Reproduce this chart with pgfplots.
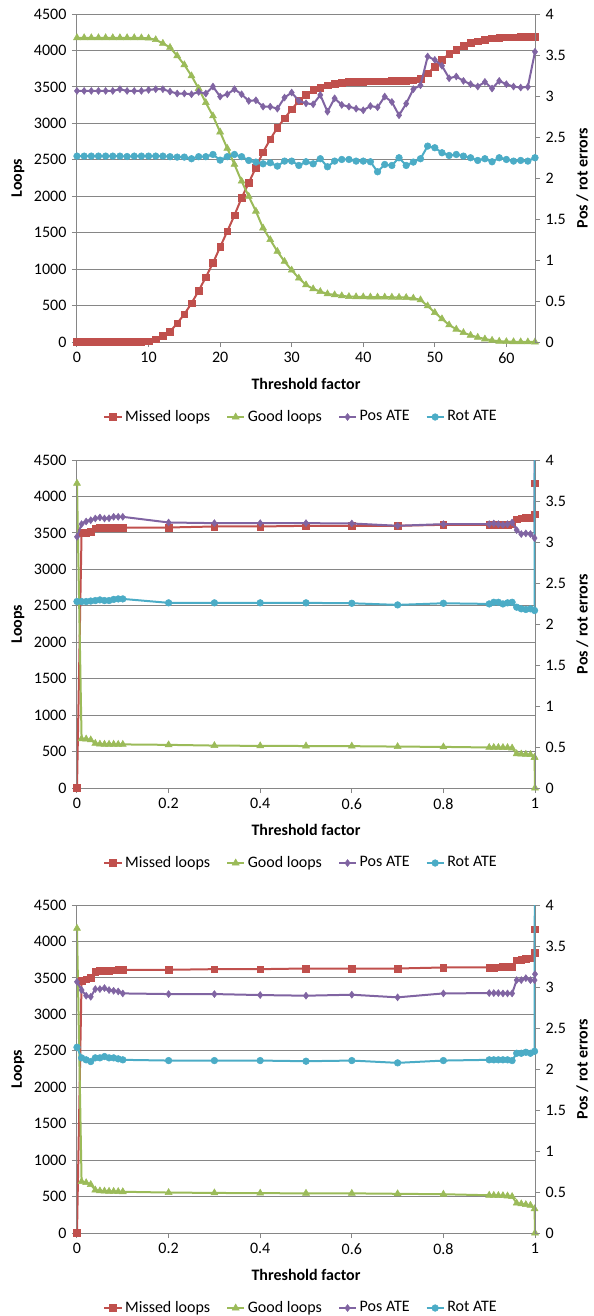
\documentclass[border=0pt]{standalone}
\usepackage{fontspec}
\setmainfont{Carlito}
\usepackage{pgfplots}
\usepackage{pgfplotstable}
\pgfplotsset{compat=1.18}

\definecolor{cMiss}{HTML}{C0504D}
\definecolor{cGood}{HTML}{9BBB59}
\definecolor{cPos}{HTML}{8064A2}
\definecolor{cRot}{HTML}{4BACC6}
\definecolor{cGrid}{HTML}{868686}

% panel 1: threshold factor 0..64
\pgfplotstableread{
x miss good pos rot
0 0 4174 3.062 2.267
1 0 4174 3.062 2.267
2 0 4174 3.062 2.267
3 0 4174 3.062 2.267
4 1 4174 3.062 2.267
5 1 4174 3.062 2.267
6 2 4174 3.083 2.267
7 3 4174 3.062 2.262
8 4 4174 3.062 2.267
9 6 4172 3.062 2.267
10 12 4168 3.074 2.267
11 37 4147 3.083 2.267
12 83 4097 3.083 2.267
13 142 4041 3.054 2.260
14 257 3926 3.030 2.255
15 381 3803 3.030 2.255
16 532 3651 3.021 2.235
17 702 3477 3.050 2.260
18 890 3284 3.030 2.260
19 1083 3101 3.115 2.287
20 1303 2881 2.993 2.218
21 1518 2656 3.021 2.260
22 1738 2436 3.083 2.287
23 1977 2206 3.021 2.260
24 2184 1998 2.940 2.214
25 2394 1794 2.948 2.194
26 2605 1564 2.870 2.173
27 2780 1404 2.870 2.186
28 2940 1243 2.846 2.145
29 3069 1105 2.981 2.206
30 3193 985 3.042 2.206
31 3307 876 2.940 2.153
32 3390 784 2.911 2.198
33 3459 729 2.899 2.173
34 3491 692 3.013 2.235
35 3523 660 2.809 2.137
36 3546 647 2.972 2.206
37 3560 633 2.891 2.226
38 3569 623 2.870 2.226
39 3572 620 2.846 2.206
40 3574 618 2.826 2.206
41 3576 617 2.878 2.198
42 3578 616 2.862 2.076
43 3579 615 2.993 2.165
44 3580 614 2.927 2.153
45 3582 613 2.765 2.247
46 3585 610 2.907 2.153
47 3590 601 3.083 2.194
48 3615 578 3.131 2.235
49 3688 495 3.482 2.389
50 3775 404 3.441 2.369
51 3872 318 3.368 2.308
52 3950 234 3.217 2.275
53 4009 175 3.238 2.287
54 4064 128 3.184 2.267
55 4101 92 3.144 2.247
56 4128 64 3.115 2.214
57 4147 41 3.172 2.235
58 4165 23 3.091 2.198
59 4174 10 3.184 2.247
60 4180 5 3.144 2.226
61 4183 3 3.115 2.206
62 4185 2 3.103 2.214
63 4186 1 3.111 2.206
64 4187 0 3.539 2.247
}\tA

% panel 2: threshold factor 0..1
\pgfplotstableread{
x miss good pos rot
0 0 4180 3.064 2.274
0.01 3506 674 3.218 2.274
0.02 3506 672 3.250 2.274
0.03 3515 660 3.266 2.280
0.04 3565 612 3.287 2.286
0.05 3574 602 3.299 2.294
0.06 3574 600 3.287 2.286
0.07 3574 600 3.290 2.286
0.08 3574 600 3.307 2.300
0.09 3574 598 3.307 2.306
0.1 3574 598 3.307 2.306
0.2 3574 592 3.238 2.258
0.3 3588 582 3.230 2.258
0.4 3588 578 3.230 2.258
0.5 3597 576 3.230 2.258
0.6 3597 574 3.226 2.253
0.7 3597 568 3.198 2.233
0.8 3611 564 3.218 2.253
0.9 3611 556 3.218 2.245
0.91 3611 556 3.226 2.265
0.92 3611 556 3.218 2.265
0.93 3611 555 3.210 2.245
0.94 3611 554 3.218 2.258
0.95 3620 548 3.238 2.265
0.96 3689 470 3.145 2.205
0.97 3700 466 3.097 2.185
0.98 3703 462 3.105 2.177
0.99 3710 458 3.097 2.185
0.999 3757 420 3.048 2.165
}\tB
\pgfplotstableread{
x miss good
0.999 3757 420
1 4181 0
}\tBend

% panel 3: threshold factor 0..1
\pgfplotstableread{
x miss good pos rot
0 0 4180 3.064 2.265
0.01 3460 705 2.963 2.136
0.02 3483 690 2.894 2.112
0.03 3506 665 2.881 2.091
0.04 3588 590 2.975 2.136
0.05 3597 578 2.975 2.136
0.06 3597 575 2.987 2.152
0.07 3600 572 2.963 2.136
0.08 3605 570 2.954 2.136
0.09 3608 568 2.946 2.124
0.1 3611 566 2.922 2.112
0.2 3611 555 2.914 2.103
0.3 3620 550 2.914 2.103
0.4 3620 546 2.902 2.103
0.5 3629 545 2.894 2.095
0.6 3629 544 2.906 2.103
0.7 3629 538 2.874 2.075
0.8 3643 532 2.922 2.103
0.9 3643 518 2.926 2.112
0.91 3643 516 2.926 2.112
0.92 3645 514 2.926 2.112
0.93 3650 512 2.922 2.112
0.94 3652 508 2.922 2.112
0.95 3657 500 2.922 2.103
0.96 3743 410 3.084 2.192
0.97 3750 400 3.084 2.192
0.98 3760 390 3.108 2.204
0.99 3770 380 3.084 2.192
0.999 3848 332 3.084 2.216
1 4167 0 3.157 nan
}\tC

\pgfplotsset{
  common/.style={
    scale only axis, width=343.5pt, height=246pt,
    /pgf/number format/assume math mode=true,
    /pgf/number format/1000 sep={},
    scaled ticks=false,
    tick align=outside,
    major tick length=3.75pt,
    every tick/.style={cGrid, line width=0.75pt},
    axis line style={-, cGrid, line width=0.75pt},
    unbounded coords=jump,
  },
  leftax/.style={common,
    axis x line*=bottom, axis y line*=left,
    ymin=0, ymax=4500, ytick distance=500,
    ymajorgrids, grid style={cGrid, line width=0.75pt},
    ylabel={\bfseries Loops},
    ylabel style={at={(axis description cs:-0.1288,0.5)}, anchor=center},
    xlabel={\bfseries Threshold factor},
    xlabel style={at={(axis description cs:0.5,-0.128)}, anchor=center},
  },
  rightax/.style={common,
    axis x line=none, axis y line*=right,
    ymin=0, ymax=4, ytick distance=0.5,
    ylabel={\bfseries Pos / rot errors},
    ylabel style={at={(axis description cs:1.1035,0.5)}, anchor=center},
    legend columns=4,
    legend style={at={(axis description cs:0.49,-0.2287)}, anchor=center,
      draw=none, fill=none, /tikz/every even column/.append style={column sep=10pt}},
    legend image code/.code={\draw[mark repeat=2,mark phase=2] plot coordinates {(0pt,0pt) (6.4pt,0pt) (12.8pt,0pt)};},
  },
  smiss/.style={cMiss, line width=1.5pt, mark=square*, mark size=2.5pt, mark options={solid, line width=0.4pt, fill=cMiss}},
  sgood/.style={cGood, line width=1.5pt, mark=triangle*, mark size=3pt, mark options={solid, line width=0.4pt, fill=cGood}},
  spos/.style={cPos, line width=1.5pt, mark=diamond*, mark size=2.6pt, mark options={solid, line width=0.4pt, fill=cPos}},
  srot/.style={cRot, line width=1.5pt, mark=*, mark size=2.5pt, mark options={solid, line width=0.4pt, fill=cRot}},
}

\begin{document}
\fontsize{12}{14}\selectfont
\begin{tikzpicture}
\useasboundingbox (0,0) rectangle (444.75pt,-987pt);

% ---------- panel 1 ----------
\begin{axis}[leftax, at={(57.75pt,-256.5pt)}, anchor=south west,
  xmin=0, xmax=64, xtick distance=10]
\addplot[smiss] table[x=x,y=miss] \tA;
\addplot[sgood] table[x=x,y=good] \tA;
\end{axis}
\begin{axis}[rightax, at={(57.75pt,-256.5pt)}, anchor=south west,
  xmin=0, xmax=64]
\addlegendimage{smiss}\addlegendentry{Missed loops}
\addlegendimage{sgood}\addlegendentry{Good loops}
\addplot[spos] table[x=x,y=pos] \tA; \addlegendentry{Pos ATE}
\addplot[srot] table[x=x,y=rot] \tA; \addlegendentry{Rot ATE}
\end{axis}

% ---------- panel 2 ----------
\begin{axis}[leftax, at={(57.75pt,-591pt)}, anchor=south west,
  xmin=0, xmax=1, xtick={0,0.2,0.4,0.6,0.8,1}]
\addplot[smiss] table[x=x,y=miss] \tB;
\addplot[smiss] table[x=x,y=miss] \tBend;
\addplot[sgood] table[x=x,y=good] \tB;
\addplot[sgood] table[x=x,y=good] \tBend;
\end{axis}
\begin{axis}[rightax, at={(57.75pt,-591pt)}, anchor=south west,
  xmin=0, xmax=1]
\addlegendimage{smiss}\addlegendentry{Missed loops}
\addlegendimage{sgood}\addlegendentry{Good loops}
\addplot[spos] table[x=x,y=pos] \tB; \addlegendentry{Pos ATE}
\addplot[srot] table[x=x,y=rot] \tB; \addlegendentry{Rot ATE}
\addplot[cPos, line width=1.5pt, forget plot] coordinates {(0.999,3.048) (1,6)};
\addplot[cRot, line width=1.5pt, forget plot] coordinates {(0.999,2.165) (1,6)};
\end{axis}

% ---------- panel 3 ----------
\begin{axis}[leftax, at={(57.75pt,-924.75pt)}, anchor=south west,
  xmin=0, xmax=1, xtick={0,0.2,0.4,0.6,0.8,1}]
\addplot[smiss] table[x=x,y=miss] \tC;
\addplot[sgood] table[x=x,y=good] \tC;
\end{axis}
\begin{axis}[rightax, at={(57.75pt,-924.75pt)}, anchor=south west,
  xmin=0, xmax=1]
\addlegendimage{smiss}\addlegendentry{Missed loops}
\addlegendimage{sgood}\addlegendentry{Good loops}
\addplot[spos] table[x=x,y=pos] \tC; \addlegendentry{Pos ATE}
\addplot[srot] table[x=x,y=rot] \tC; \addlegendentry{Rot ATE}
\addplot[cRot, line width=1.5pt, forget plot] coordinates {(0.999,2.216) (1,6)};
\end{axis}
\end{tikzpicture}
\end{document}
